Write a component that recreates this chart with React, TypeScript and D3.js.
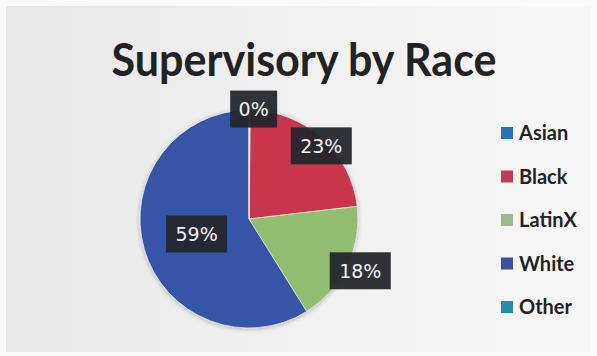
import React from "react";
import * as d3 from "d3";

const categories = ["Asian", "Black", "LatinX", "White", "Other"];
const values = [0.2, 23, 18, 59, 0];
const labels = ["0%", "23%", "18%", "59%", ""];
const colors = ["#2a73b8", "#c9354b", "#92bd6e", "#3654a6", "#1f93b5"];
const legendColors = ["#2a73b8", "#c53b56", "#9db88b", "#3a52a0", "#2090b0"];

const W = 597, H = 356;

export default function App() {
  const cx = 249, cy = 219, r = 109;
  const pie = d3.pie<number>().sort(null).value((d) => d)(values);
  const arc = d3.arc<d3.PieArcDatum<number>>().innerRadius(0).outerRadius(r);
  const labelArc = d3.arc<d3.PieArcDatum<number>>().innerRadius(r * 0.9).outerRadius(r * 1.08);
  const labelOffsets: [number, number][] = [
    [4, -2],
    [0, 7],
    [14, 5],
    [0, 0],
    [0, 0],
  ];
  const legendY = d3.scalePoint<string>().domain(categories).range([133, 307]);

  return (
    <svg width={W} height={H} style={{ position: "fixed", left: 0, top: 0 }}>
      <defs>
        <linearGradient id="bg" x1="0" x2="1" y1="0" y2="0">
          <stop offset="0" stopColor="#e9e9e9" />
          <stop offset="0.6" stopColor="#f1f1f1" />
          <stop offset="1" stopColor="#f7f7f7" />
        </linearGradient>
        <filter id="sh" x="-20%" y="-20%" width="140%" height="140%">
          <feDropShadow dx="0" dy="1" stdDeviation="2" floodColor="#000" floodOpacity="0.25" />
        </filter>
      </defs>
      <rect x={0} y={0} width={W} height={H} fill="#fbfbfb" />
      <rect x={6} y={6} width={W - 12} height={H - 10} fill="url(#bg)" />
      <text
        x={304}
        y={76}
        textAnchor="middle"
        fontFamily="Lato, 'Open Sans', sans-serif"
        fontWeight={700}
        fontSize={46}
        fill="#222"
        textLength={385}
        lengthAdjust="spacingAndGlyphs"
      >
        Supervisory by Race
      </text>
      <g transform={`translate(${cx},${cy})`} filter="url(#sh)">
        {pie.map((p, i) => (
          <path key={i} d={arc(p) || ""} fill={colors[i]} stroke="#e8e8e8" strokeWidth={0.8} />
        ))}
      </g>
      <g transform={`translate(${cx},${cy})`}>
        {pie.map((p, i) => {
          if (!labels[i]) return null;
          const [lx, ly] = i === 3 ? arc.centroid(p) : labelArc.centroid(p);
          const x = lx + labelOffsets[i][0];
          const y = ly + labelOffsets[i][1];
          const w = labels[i].length > 2 ? 61 : 47;
          const h = 37;
          return (
            <g key={i} transform={`translate(${x},${y})`}>
              <rect x={-w / 2} y={-h / 2} width={w} height={h} fill="#24272c" opacity={0.95} />
              <text
                textAnchor="middle"
                dy="0.36em"
                fontFamily="'DejaVu Sans', sans-serif"
                fontSize={19}
                fill="#f2f2f2"
              >
                {labels[i]}
              </text>
            </g>
          );
        })}
      </g>
      {categories.map((c, i) => (
        <g key={c} transform={`translate(501,${legendY(c)})`}>
          <rect x={0} y={-6} width={12} height={12} fill={legendColors[i]} />
          <text
            x={18}
            dy="0.36em"
            fontFamily="Lato, sans-serif"
            fontWeight={700}
            fontSize={20}
            fill="#222"
          >
            {c}
          </text>
        </g>
      ))}
    </svg>
  );
}
